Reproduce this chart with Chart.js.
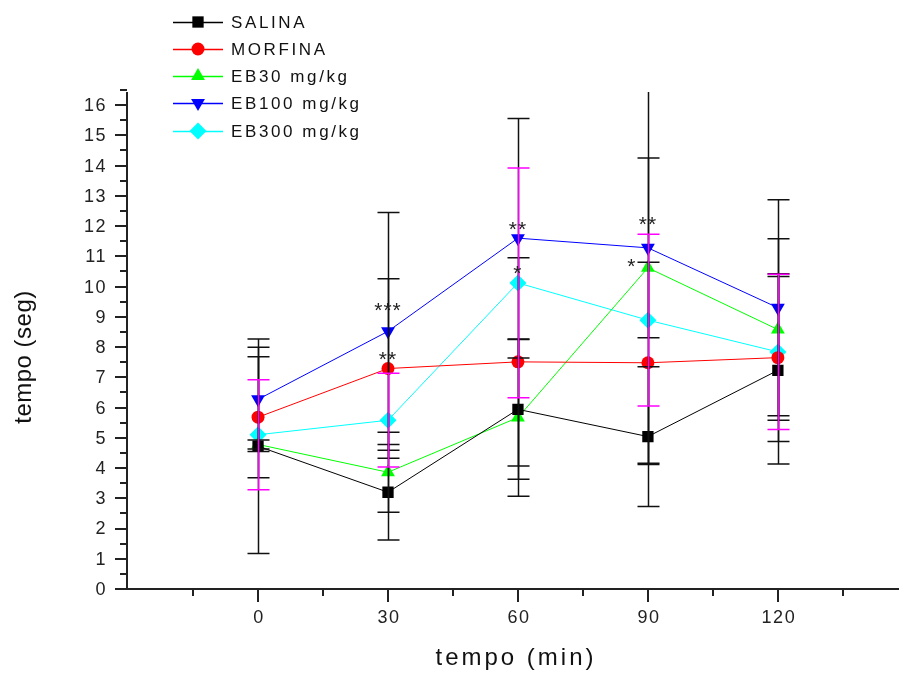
<!DOCTYPE html>
<html>
<head>
<meta charset="utf-8">
<script src="https://cdn.jsdelivr.net/npm/chart.js@4.4.1/dist/chart.umd.min.js"></script>
<style>
html, body { margin: 0; padding: 0; background: #fff; }
#wrap { width: 899px; height: 677px; }
</style>
</head>
<body>
<div id="wrap"><canvas id="chart" width="899" height="677"></canvas></div>
<script>
// DATA
const minutes = [0, 30, 60, 90, 120];
const seriesNames = ['SALINA', 'MORFINA', 'EB30 mg/kg', 'EB100 mg/kg', 'EB300 mg/kg'];

const salina = [4.72, 3.2, 5.94, 5.04, 7.23];
const salinaErr = [3.55, 1.58, 2.31, 2.31, 3.1];
const morfina = [5.68, 7.29, 7.51, 7.48, 7.65];
const morfinaErr = [2.0, 2.97, 3.44, 3.32, 2.77];
const eb30 = [4.78, 3.86, 5.67, 10.62, 8.58];
const eb30Err = [0.15, 1.32, 2.6, 6.5, 3.0];
const eb100 = [6.27, 8.52, 11.6, 11.28, 9.3];
const eb100Err = [1.72, 3.93, 3.96, 2.97, 3.57];
const eb300 = [5.1, 5.58, 10.12, 8.89, 7.84];
const eb300Err = [1.82, 1.55, 3.8, 2.84, 2.57];

const yTicks = [0, 1, 2, 3, 4, 5, 6, 7, 8, 9, 10, 11, 12, 13, 14, 15, 16];
const yMinorTicks = [0.5, 1.5, 2.5, 3.5, 4.5, 5.5, 6.5, 7.5, 8.5, 9.5, 10.5, 11.5, 12.5, 13.5, 14.5, 15.5, 16.5];
const xTicks = [0, 30, 60, 90, 120];
const xMinorTicks = [-15, 15, 45, 75, 105, 135];

// significance marks (x in min, y in seg)
const starX = [30, 30, 60, 60, 86.3, 90];
const starY = [9.4, 7.76, 12.08, 10.6, 10.86, 12.24];
const starText = ['***', '**', '**', '*', '*', '**'];

const FONT = "'Liberation Sans', Arial, sans-serif";

const seriesValues = [salina, morfina, eb30, eb100, eb300];
const seriesErr = [salinaErr, morfinaErr, eb30Err, eb100Err, eb300Err];
const colors = ['#000000', '#ff0000', '#00ff00', '#0000ff', '#00ffff'];
const errColors = ['#111111', '#111111', '#111111', '#111111', '#ff00ff'];
const markers = ['rect', 'circle', 'triangle', 'triangle', 'rectRot'];
const markerRot = [0, 0, 0, 180, 0];
const markerSize = [8, 6.5, 8, 8, 8.5];

const datasets = seriesNames.map((name, i) => ({
    label: name,
    data: minutes.map((m, j) => ({ x: m, y: seriesValues[i][j] })),
    borderColor: colors[i],
    backgroundColor: colors[i],
    borderWidth: 1,
    pointStyle: markers[i],
    pointRotation: markerRot[i],
    pointRadius: markerSize[i],
    pointBorderWidth: 0,
    showLine: true,
    tension: 0,
}));

const drawMarker = (ctx, style, x, y, r, color, rot) => {
    ctx.save();
    ctx.fillStyle = color;
    ctx.translate(x, y);
    ctx.rotate(rot * Math.PI / 180);
    ctx.beginPath();
    if (style === 'rect') {
        const s = r * Math.SQRT1_2;
        ctx.rect(-s, -s, 2 * s, 2 * s);
    } else if (style === 'circle') {
        ctx.arc(0, 0, r, 0, Math.PI * 2);
    } else if (style === 'triangle') {
        for (let k = 0; k < 3; k++) {
            const a = k * 2 * Math.PI / 3;
            ctx.lineTo(Math.sin(a) * r, -Math.cos(a) * r);
        }
        ctx.closePath();
    } else {
        ctx.moveTo(0, -r); ctx.lineTo(r, 0); ctx.lineTo(0, r); ctx.lineTo(-r, 0);
        ctx.closePath();
    }
    ctx.fill();
    ctx.restore();
};

const extras = {
    id: 'extras',
    afterDatasetsDraw(chart) {
        const { ctx, chartArea, scales: { x, y } } = chart;
        ctx.save();
        ctx.beginPath();
        ctx.rect(chartArea.left, chartArea.top - 1, chartArea.right - chartArea.left, chartArea.bottom - chartArea.top + 1);
        ctx.clip();
        ctx.lineWidth = 1.5;
        seriesValues.forEach((vals, i) => {
            ctx.strokeStyle = errColors[i];
            vals.forEach((v, j) => {
                const px = Math.round(x.getPixelForValue(minutes[j])) + 0.5;
                const top = y.getPixelForValue(v + seriesErr[i][j]);
                const bot = y.getPixelForValue(v - seriesErr[i][j]);
                ctx.beginPath();
                ctx.moveTo(px, top); ctx.lineTo(px, bot);
                ctx.moveTo(px - 11, top); ctx.lineTo(px + 11, top);
                ctx.moveTo(px - 11, bot); ctx.lineTo(px + 11, bot);
                ctx.stroke();
            });
        });
        ctx.restore();

        // asterisks
        ctx.save();
        ctx.fillStyle = '#222';
        ctx.font = '21px ' + FONT;
        ctx.textAlign = 'center';
        ctx.textBaseline = 'alphabetic';
        ctx.letterSpacing = '1px';
        starText.forEach((t, k) => {
            ctx.fillText(t, x.getPixelForValue(starX[k]), y.getPixelForValue(starY[k]) + 12);
        });
        ctx.restore();
    },
    afterDraw(chart) {
        const { ctx, chartArea, scales: { x, y } } = chart;
        ctx.save();
        ctx.strokeStyle = '#222';
        ctx.lineWidth = 2;
        ctx.beginPath();
        // extend the x axis line to the right edge of the canvas
        ctx.moveTo(chartArea.right - 1, chartArea.bottom); ctx.lineTo(chart.width, chartArea.bottom);
        yTicks.forEach(v => {
            const py = Math.round(y.getPixelForValue(v));
            ctx.moveTo(chartArea.left - 12, py); ctx.lineTo(chartArea.left, py);
        });
        yMinorTicks.forEach(v => {
            const py = Math.round(y.getPixelForValue(v));
            ctx.moveTo(chartArea.left - 7, py); ctx.lineTo(chartArea.left, py);
        });
        xTicks.forEach(v => {
            const px = Math.round(x.getPixelForValue(v));
            ctx.moveTo(px, chartArea.bottom); ctx.lineTo(px, chartArea.bottom + 13);
        });
        xMinorTicks.forEach(v => {
            const px = Math.round(x.getPixelForValue(v));
            ctx.moveTo(px, chartArea.bottom); ctx.lineTo(px, chartArea.bottom + 7);
        });
        ctx.stroke();

        // tick labels
        ctx.fillStyle = '#222';
        ctx.font = '18px ' + FONT;
        ctx.textBaseline = 'middle';
        ctx.letterSpacing = '1.5px';
        ctx.textAlign = 'right';
        yTicks.forEach(v => {
            ctx.fillText(String(v), chartArea.left - 20, y.getPixelForValue(v) + 1);
        });
        ctx.textAlign = 'center';
        xTicks.forEach(v => {
            ctx.fillText(String(v), x.getPixelForValue(v) + 1, chartArea.bottom + 29);
        });

        // axis titles
        ctx.fillStyle = '#111';
        ctx.font = '24px ' + FONT;
        ctx.textAlign = 'center';
        ctx.textBaseline = 'middle';
        ctx.letterSpacing = '3px';
        ctx.fillText('tempo (min)', 516, 658);
        ctx.save();
        ctx.translate(24, 357);
        ctx.rotate(-Math.PI / 2);
        ctx.letterSpacing = '0.5px';
        ctx.fillText('tempo (seg)', 0, 0);
        ctx.restore();

        // legend
        const rows = [22, 49, 76, 103, 131];
        ctx.font = '17px ' + FONT;
        ctx.textAlign = 'left';
        ctx.letterSpacing = '2.6px';
        seriesNames.forEach((name, i) => {
            const ly = rows[i];
            ctx.strokeStyle = colors[i];
            ctx.lineWidth = 1.5;
            ctx.beginPath();
            ctx.moveTo(173, ly + 0.5); ctx.lineTo(223, ly + 0.5);
            ctx.stroke();
            drawMarker(ctx, markers[i], 198, ly, markerSize[i], colors[i], markerRot[i]);
            ctx.fillStyle = '#111';
            ctx.fillText(name, 231, ly + 1);
        });
        ctx.restore();
    }
};

new Chart(document.getElementById('chart'), {
    type: 'scatter',
    data: { datasets },
    options: {
        responsive: false,
        animation: false,
        layout: { padding: { top: 93, right: 0, left: 0, bottom: 0 } },
        plugins: {
            legend: { display: false },
            tooltip: { enabled: false },
        },
        scales: {
            x: {
                type: 'linear',
                min: -30.25,
                max: 146,
                afterBuildTicks: (s) => { s.ticks = xTicks.map(v => ({ value: v })); },
                afterFit: (s) => { s.height = 88; },
                grid: { display: false },
                border: { display: true, color: '#222', width: 2 },
                ticks: { display: false },
            },
            y: {
                type: 'linear',
                min: 0,
                max: 16.4,
                afterBuildTicks: (s) => { s.ticks = yTicks.map(v => ({ value: v })); },
                afterFit: (s) => { s.width = 127; },
                grid: { display: false },
                border: { display: true, color: '#222', width: 2 },
                ticks: { display: false },
            },
        },
    },
    plugins: [extras],
});
</script>
</body>
</html>
